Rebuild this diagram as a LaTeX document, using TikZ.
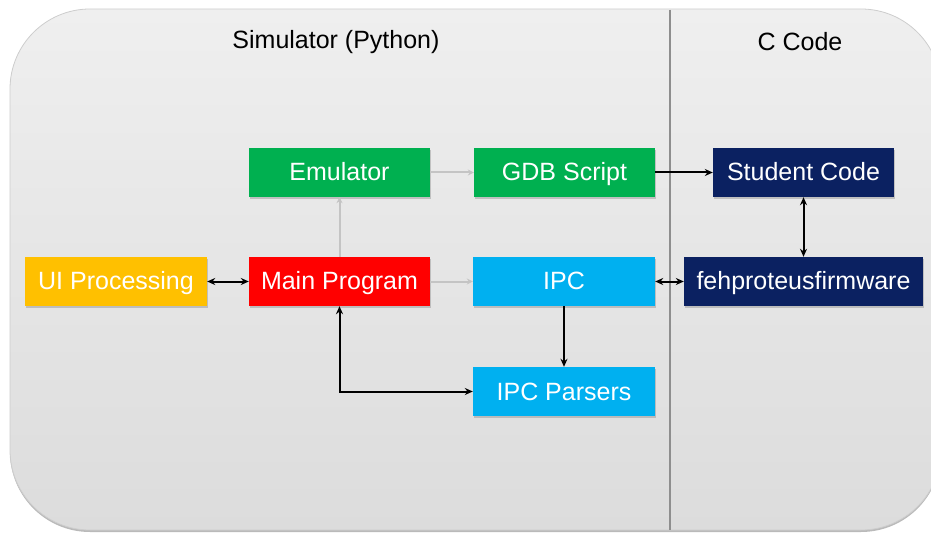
\documentclass[tikz,border=0pt]{standalone}
\usepackage{fontspec}
\setmainfont{Liberation Sans}
\usetikzlibrary{arrows.meta,shadows,positioning}

\definecolor{boxgreen}{HTML}{00B050}
\definecolor{boxnavy}{HTML}{0B2161}
\definecolor{boxamber}{HTML}{FFC000}
\definecolor{boxred}{HTML}{FF0000}
\definecolor{boxcyan}{HTML}{00B0F0}
\definecolor{bgtop}{HTML}{EFEFEF}
\definecolor{bgbottom}{HTML}{DCDCDC}
\definecolor{bgedge}{HTML}{CDCDCD}
\definecolor{divider}{HTML}{8E8E8E}
\definecolor{faint}{HTML}{C4C4C4}

\tikzset{
  blockbox/.style={draw=none, minimum height=49pt, minimum width=181pt,
    inner sep=0pt, text=white, font=\fontsize{25}{28}\selectfont,
    text height=20pt, text depth=3pt,
    drop shadow={shadow xshift=1.2pt, shadow yshift=-2pt, opacity=0.3, fill=black!60}},
  titletext/.style={font=\fontsize{25}{28}\selectfont, text=black, inner sep=0pt},
  strong/.style={draw=black, line width=2pt, -{Stealth[length=8pt,width=7pt]}},
  strongboth/.style={draw=black, line width=2pt, {Stealth[length=8pt,width=7pt]}-{Stealth[length=8pt,width=7pt]}},
  weak/.style={draw=faint, line width=2pt, -{Stealth[length=6pt,width=6pt]}},
}

\begin{document}
\begin{tikzpicture}[x=1pt,y=-1pt]
\useasboundingbox (0,0) rectangle (931,537);

% panel behind everything
\begin{scope}
  \clip (0,0) rectangle (931,537);
  \fill[black!45, opacity=0.6, rounded corners=80pt] (10,11) rectangle (941,532);
  \shade[top color=bgtop, bottom color=bgbottom, draw=bgedge, line width=0.8pt,
         rounded corners=80pt] (10,9) rectangle (941,530);
\end{scope}
\coordinate (divtop) at (670,10);
\coordinate (divbot) at (670,530);
\draw[divider, line width=2pt] (divtop) -- (divbot);

% column headings
\node[titletext] (simtitle) at (336,42) {Simulator (Python)};
\node[titletext] (ctitle) at (800,42) {C Code};

% blocks
\node[blockbox, fill=boxgreen] (emu) at (339.5,172.5) {Emulator};
\node[blockbox, fill=boxgreen] (gdb) at (564.5,172.5) {GDB Script};
\node[blockbox, fill=boxnavy] (student) at (803.5,172.5) {Student Code};
\node[blockbox, fill=boxamber, minimum width=182pt] (ui) at (116,281.5) {UI Processing};
\node[blockbox, fill=boxred] (main) at (339.5,281.5) {Main Program};
\node[blockbox, fill=boxcyan, minimum width=182pt] (ipc) at (564,281.5) {IPC};
\node[blockbox, fill=boxnavy, minimum width=239pt] (feh) at (803.5,281.5) {fehproteusfirmware};
\node[blockbox, fill=boxcyan, minimum width=182pt] (parsers) at (564,391.5) {IPC Parsers};

% faint connectors
\draw[weak] (emu) -- (gdb);
\draw[weak] (main) -- (ipc);
\draw[weak] (main.north) -- (emu.south);

% solid connectors
\draw[strong] (gdb) -- (student);
\draw[strongboth] (student) -- (student |- feh.north);
\draw[strongboth] (ipc) -- (feh);
\draw[strongboth] (ui) -- (main);
\draw[strong] (ipc) -- (parsers);
\draw[strongboth] (main.south) |- (parsers.west);
\end{tikzpicture}
\end{document}
